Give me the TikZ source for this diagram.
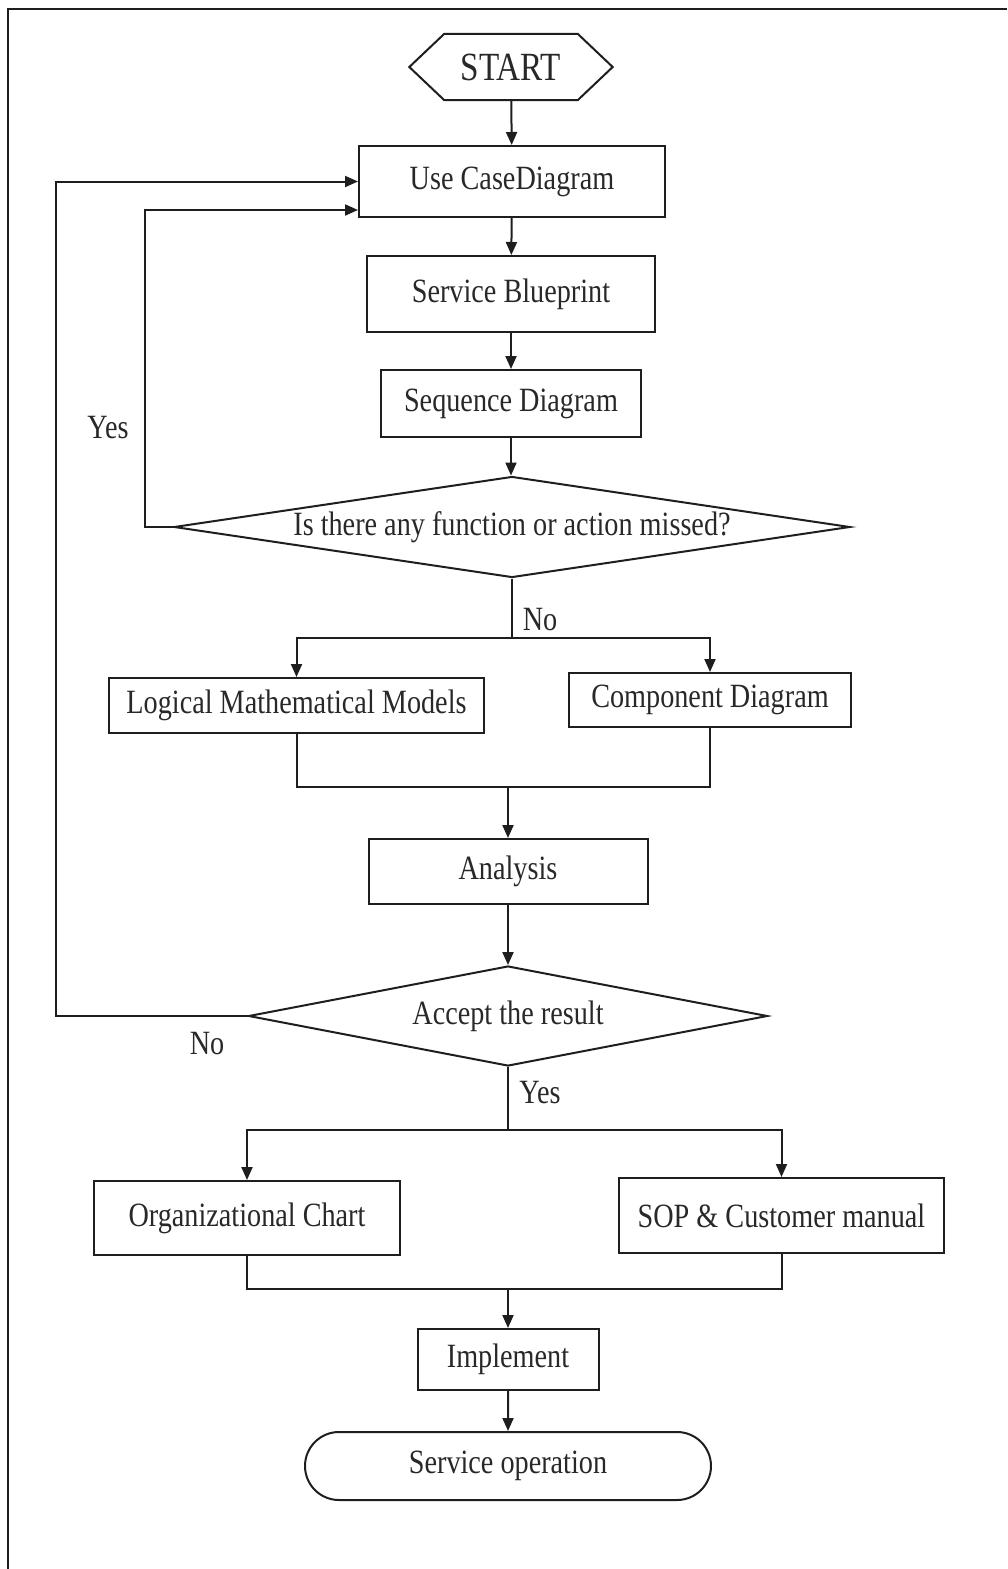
\documentclass[tikz,border=0pt]{standalone}
\usepackage{fontspec}
\setmainfont[FakeStretch=0.83]{Liberation Serif}
\usepackage{tikz}
\usetikzlibrary{arrows.meta, shapes.geometric, shapes.misc}
\definecolor{inkline}{RGB}{30,30,30}
\definecolor{inktext}{RGB}{40,40,40}

\begin{document}
\begin{tikzpicture}[x=1pt, y=-1pt,
    font=\fontsize{34}{38}\selectfont, text=inktext,
    box/.style={draw=inkline, line width=2pt, inner sep=0pt, align=center},
    decision/.style={draw=inkline, line width=2pt, diamond, inner sep=0pt},
    flow/.style={draw=inkline, line width=2pt, -{Triangle[length=13pt,width=11pt]}},
    link/.style={draw=inkline, line width=2pt},
    lbl/.style={inner sep=0pt}]

\useasboundingbox (0,0) rectangle (1007,1569);

% page frame (top and left edge only)
\draw[inkline, line width=2.4pt] (8,1569) -- (8,9) -- (1007,9);

% START hexagon
\node[inner sep=0pt, minimum width=203pt, minimum height=66pt,
      font=\fontsize{40}{44}\selectfont] (start) at (511,67) {START};
\draw[link] (start.west) -- ([xshift=35pt]start.north west)
      -- ([xshift=-35pt]start.north east) -- (start.east)
      -- ([xshift=-35pt]start.south east) -- ([xshift=35pt]start.south west) -- cycle;

% upper chain
\node[box, minimum width=306pt, minimum height=71pt] (usecase) at (512,181.5) {Use CaseDiagram};
\node[box, minimum width=288pt, minimum height=76pt] (blueprint) at (511,294) {Service Blueprint};
\node[box, minimum width=260pt, minimum height=67pt] (sequence) at (511,403.5) {Sequence Diagram};
\node[decision, aspect=6.7, minimum width=676pt, minimum height=101pt] (missed) at (512,527)
      {Is there any function or action missed?};

% design models
\node[box, minimum width=375pt, minimum height=55pt] (logical) at (296.5,705.5) {Logical Mathematical Models};
\node[box, minimum width=282pt, minimum height=54pt] (component) at (710,700) {Component Diagram};

% analysis and check
\node[box, minimum width=279pt, minimum height=65pt] (analysis) at (508,871.5) {Analysis};
\node[decision, aspect=5.2, minimum width=519pt, minimum height=100pt] (accept) at (508,1016) {Accept the result};

% outputs
\node[box, minimum width=306pt, minimum height=74pt] (orgchart) at (247,1218) {Organizational Chart};
\node[box, minimum width=325pt, minimum height=75pt] (sop) at (781.5,1215.5) {SOP \& Customer manual};
\node[box, minimum width=181pt, minimum height=61pt] (implement) at (508,1359.5) {Implement};
\node[box, rounded rectangle, minimum width=406pt, minimum height=68pt] (operation) at (508,1466) {Service operation};

% labels
\node[lbl] (yesmissed) at (108,428) {Yes};
\node[lbl] (nomissed) at (540,620) {No};
\node[lbl] (noaccept) at (207,1044) {No};
\node[lbl] (yesaccept) at (540,1093) {Yes};

% junction points
\coordinate (nosplit) at (missed.south |- 0,638);
\coordinate (modelmerge) at (analysis.north |- 0,787);
\coordinate (yessplit) at (accept.south |- 0,1130);
\coordinate (outmerge) at (implement.north |- 0,1289);

% straight flow
\draw[flow] (start) -- (usecase);
\draw[flow] (usecase) -- (blueprint);
\draw[flow] (blueprint) -- (sequence);
\draw[flow] (sequence.south) -- (sequence.south |- missed.north);

% feedback loops
\draw[flow] (missed.west) -- ++(-28,0) |- ([yshift=-28.5pt]usecase.west);
\draw[flow] (accept.west) -- ++(-192,0) |- (usecase.west);

% branch after first check
\draw[link] (missed.south) -- (nosplit);
\draw[flow] (nosplit) -| (logical.north);
\draw[flow] (nosplit) -| (component.north);
\draw[link] (logical.south) |- (modelmerge);
\draw[link] (component.south) |- (modelmerge);
\draw[flow] (modelmerge) -- (analysis.north);
\draw[flow] (analysis) -- (accept);

% branch after acceptance
\draw[link] (accept.south) -- (yessplit);
\draw[flow] (yessplit) -| (orgchart.north);
\draw[flow] (yessplit) -| (sop.north);
\draw[link] (orgchart.south) |- (outmerge);
\draw[link] (sop.south) |- (outmerge);
\draw[flow] (outmerge) -- (implement.north);
\draw[flow] (implement) -- (operation);

\end{tikzpicture}
\end{document}
